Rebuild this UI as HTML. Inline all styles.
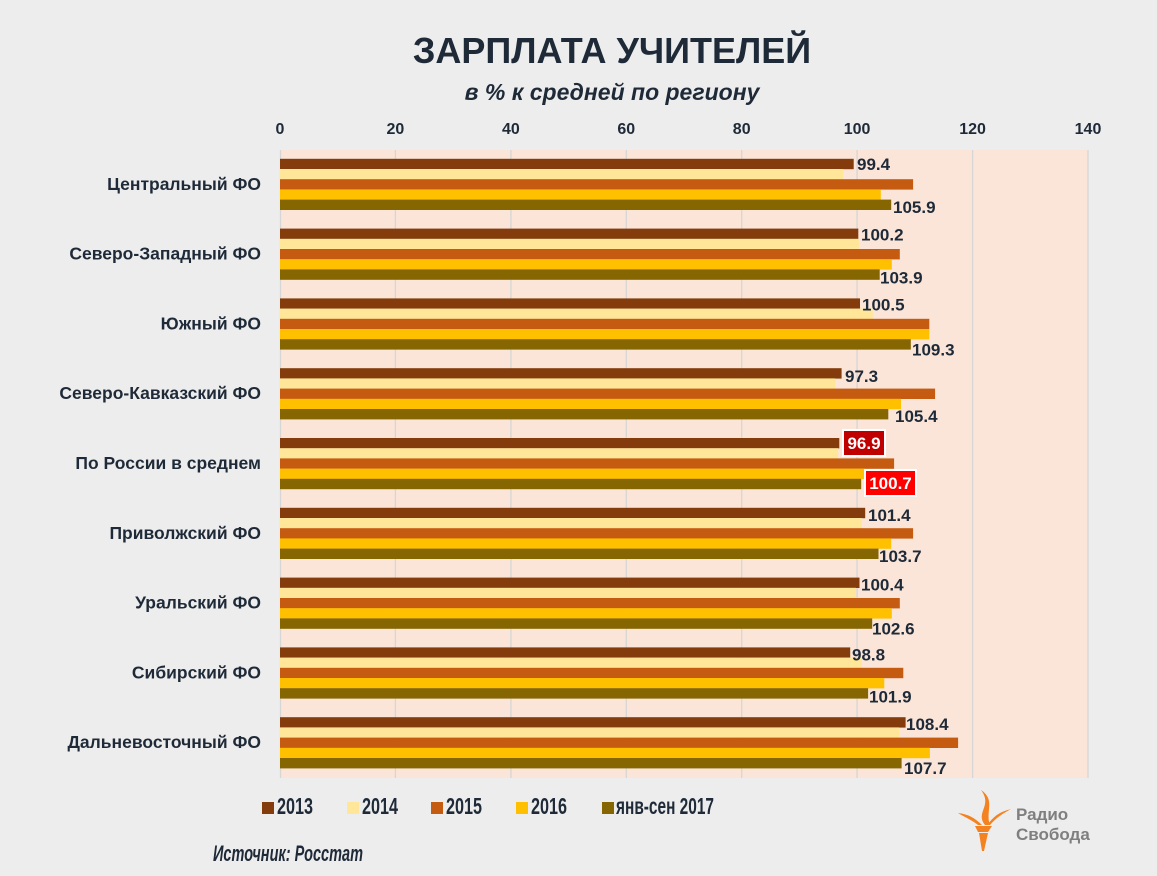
<!DOCTYPE html>
<html><head><meta charset="utf-8"><style>
html,body{margin:0;padding:0;background:#ededed;}
svg{display:block;font-family:"Liberation Sans","DejaVu Sans",sans-serif;}
.v{font-size:17px;font-weight:bold;fill:#1f2a38;}
.c{font-size:17.5px;font-weight:bold;fill:#1f2a38;text-anchor:end;}
.ax{font-size:16px;font-weight:bold;fill:#1f2a38;text-anchor:middle;}
.lg{font-size:23px;font-weight:bold;fill:#1f2a38;}
</style></head><body>
<svg width="1157" height="876" viewBox="0 0 1157 876">
<rect width="1157" height="876" fill="#ededed"/>
<text x="612" y="63" text-anchor="middle" font-size="36" font-weight="bold" fill="#1f2a38">ЗАРПЛАТА УЧИТЕЛЕЙ</text>
<text x="612" y="100" text-anchor="middle" font-size="23" font-weight="bold" font-style="italic" fill="#1f2a38">в % к средней по региону</text>
<rect x="280" y="150" width="808" height="628" fill="#fae5d8"/>
<g stroke="#d6d6d6" stroke-width="1.3">
<line x1="280.5" y1="150" x2="280.5" y2="778"/><line x1="395.4" y1="150" x2="395.4" y2="778"/><line x1="510.9" y1="150" x2="510.9" y2="778"/><line x1="626.3" y1="150" x2="626.3" y2="778"/><line x1="741.7" y1="150" x2="741.7" y2="778"/><line x1="857.1" y1="150" x2="857.1" y2="778"/><line x1="972.6" y1="150" x2="972.6" y2="778"/><line x1="1088" y1="150" x2="1088" y2="778"/>
</g>
<g class="ax">
<text x="280" y="134" class="ax">0</text><text x="395.4" y="134" class="ax">20</text><text x="510.9" y="134" class="ax">40</text><text x="626.3" y="134" class="ax">60</text><text x="741.7" y="134" class="ax">80</text><text x="857.1" y="134" class="ax">100</text><text x="972.6" y="134" class="ax">120</text><text x="1088" y="134" class="ax">140</text>
</g>

<g transform="translate(0,158.8)">
<rect x="280" y="0" width="573.7" height="10.4" fill="#843c0c"/><rect x="280" y="10.2" width="563.3" height="10.4" fill="#ffe699"/><rect x="280" y="20.4" width="633.1" height="10.4" fill="#c55a11"/><rect x="280" y="30.6" width="600.8" height="10.4" fill="#ffc000"/><rect x="280" y="40.8" width="611.2" height="10.4" fill="#866600"/>
<text class="v" x="857" y="11">99.4</text><text class="v" x="893" y="54">105.9</text><text class="c" x="261" y="31">Центральный ФО</text></g>

<g transform="translate(0,228.6)">
<rect x="280" y="0" width="578.3" height="10.4" fill="#843c0c"/><rect x="280" y="10.2" width="578.9" height="10.4" fill="#ffe699"/><rect x="280" y="20.4" width="619.8" height="10.4" fill="#c55a11"/><rect x="280" y="30.6" width="611.8" height="10.4" fill="#ffc000"/><rect x="280" y="40.8" width="599.7" height="10.4" fill="#866600"/>
<text class="v" x="861" y="12">100.2</text><text class="v" x="880" y="55">103.9</text><text class="c" x="261" y="31">Северо-Западный ФО</text></g>

<g transform="translate(0,298.4)">
<rect x="280" y="0" width="580" height="10.4" fill="#843c0c"/><rect x="280" y="10.2" width="592.7" height="10.4" fill="#ffe699"/><rect x="280" y="20.4" width="649.3" height="10.4" fill="#c55a11"/><rect x="280" y="30.6" width="649.3" height="10.4" fill="#ffc000"/><rect x="280" y="40.8" width="630.8" height="10.4" fill="#866600"/>
<text class="v" x="862" y="12">100.5</text><text class="v" x="912" y="57">109.3</text><text class="c" x="261" y="31">Южный ФО</text></g>

<g transform="translate(0,368.2)">
<rect x="280" y="0" width="561.6" height="10.4" fill="#843c0c"/><rect x="280" y="10.2" width="555.2" height="10.4" fill="#ffe699"/><rect x="280" y="20.4" width="655.1" height="10.4" fill="#c55a11"/><rect x="280" y="30.6" width="621" height="10.4" fill="#ffc000"/><rect x="280" y="40.8" width="608.3" height="10.4" fill="#866600"/>
<text class="v" x="845" y="14">97.3</text><text class="v" x="895" y="54">105.4</text><text class="c" x="261" y="31">Северо-Кавказский ФО</text></g>

<g transform="translate(0,438)">
<rect x="280" y="0" width="559.3" height="10.4" fill="#843c0c"/><rect x="280" y="10.2" width="558.1" height="10.4" fill="#ffe699"/><rect x="280" y="20.4" width="614.1" height="10.4" fill="#c55a11"/><rect x="280" y="30.6" width="584.6" height="10.4" fill="#ffc000"/><rect x="280" y="40.8" width="581.2" height="10.4" fill="#866600"/>
<rect x="843" y="-8" width="42" height="26" fill="#c00000" stroke="#fff" stroke-width="2"/><text x="864" y="11" text-anchor="middle" font-size="17" font-weight="bold" fill="#fff">96.9</text>
<rect x="865" y="32" width="51" height="26" fill="#ff0000" stroke="#fff" stroke-width="2"/><text x="890.5" y="51" text-anchor="middle" font-size="17" font-weight="bold" fill="#fff">100.7</text>
<text class="c" x="261" y="31">По России в среднем</text></g>

<g transform="translate(0,507.8)">
<rect x="280" y="0" width="585.2" height="10.4" fill="#843c0c"/><rect x="280" y="10.2" width="581.8" height="10.4" fill="#ffe699"/><rect x="280" y="20.4" width="633.1" height="10.4" fill="#c55a11"/><rect x="280" y="30.6" width="611.2" height="10.4" fill="#ffc000"/><rect x="280" y="40.8" width="598.5" height="10.4" fill="#866600"/>
<text class="v" x="868" y="13">101.4</text><text class="v" x="879" y="54">103.7</text><text class="c" x="261" y="31">Приволжский ФО</text></g>

<g transform="translate(0,577.6)">
<rect x="280" y="0" width="579.5" height="10.4" fill="#843c0c"/><rect x="280" y="10.2" width="576" height="10.4" fill="#ffe699"/><rect x="280" y="20.4" width="619.8" height="10.4" fill="#c55a11"/><rect x="280" y="30.6" width="611.8" height="10.4" fill="#ffc000"/><rect x="280" y="40.8" width="592.2" height="10.4" fill="#866600"/>
<text class="v" x="861" y="13">100.4</text><text class="v" x="872" y="57">102.6</text><text class="c" x="261" y="31">Уральский ФО</text></g>

<g transform="translate(0,647.4)">
<rect x="280" y="0" width="570.2" height="10.4" fill="#843c0c"/><rect x="280" y="10.2" width="581.8" height="10.4" fill="#ffe699"/><rect x="280" y="20.4" width="623.3" height="10.4" fill="#c55a11"/><rect x="280" y="30.6" width="604.3" height="10.4" fill="#ffc000"/><rect x="280" y="40.8" width="588.1" height="10.4" fill="#866600"/>
<text class="v" x="852" y="13">98.8</text><text class="v" x="869" y="55">101.9</text><text class="c" x="261" y="31">Сибирский ФО</text></g>

<g transform="translate(0,717.2)">
<rect x="280" y="0" width="625.6" height="10.4" fill="#843c0c"/><rect x="280" y="10.2" width="619.3" height="10.4" fill="#ffe699"/><rect x="280" y="20.4" width="678.1" height="10.4" fill="#c55a11"/><rect x="280" y="30.6" width="649.9" height="10.4" fill="#ffc000"/><rect x="280" y="40.8" width="621.6" height="10.4" fill="#866600"/>
<text class="v" x="906" y="13">108.4</text><text class="v" x="904" y="57">107.7</text><text class="c" x="261" y="31">Дальневосточный ФО</text></g>

<g>
<rect x="262" y="802" width="12" height="12" fill="#843c0c"/><text class="lg" x="277" y="814" textLength="36" lengthAdjust="spacingAndGlyphs">2013</text>
<rect x="347" y="802" width="12" height="12" fill="#ffe699"/><text class="lg" x="362" y="814" textLength="36" lengthAdjust="spacingAndGlyphs">2014</text>
<rect x="431" y="802" width="12" height="12" fill="#c55a11"/><text class="lg" x="446" y="814" textLength="36" lengthAdjust="spacingAndGlyphs">2015</text>
<rect x="516" y="802" width="12" height="12" fill="#ffc000"/><text class="lg" x="531" y="814" textLength="36" lengthAdjust="spacingAndGlyphs">2016</text>
<rect x="602" y="802" width="12" height="12" fill="#866600"/><text class="lg" x="616" y="814" textLength="98" lengthAdjust="spacingAndGlyphs">янв-сен 2017</text>
</g>
<text x="213" y="861" font-size="22" font-weight="bold" font-style="italic" fill="#1f2a38" textLength="150" lengthAdjust="spacingAndGlyphs">Источник: Росстат</text>

<g fill="#f58220">
<path d="M975 826 L992 826 L988 832 L978 832 Z"/>
<path d="M979 833 L988 833 L984 851 L982 851 Z"/>
<path d="M985 825 C975 812 993 806 981 790 C996 800 985 812 990 825 Z"/>
<path d="M987 825 C995 815 1000 812 1011 809 C1002 814 996 818 990 825 Z"/>
<path d="M982 825 C975 818 968 814 958 813 C966 818 972 820 978 825 Z"/>
</g>
<text x="1016" y="820" font-size="17" font-weight="bold" fill="#7f7f7f">Радио</text>
<text x="1016" y="840" font-size="17" font-weight="bold" fill="#7f7f7f">Свобода</text>
</svg>
</body></html>
